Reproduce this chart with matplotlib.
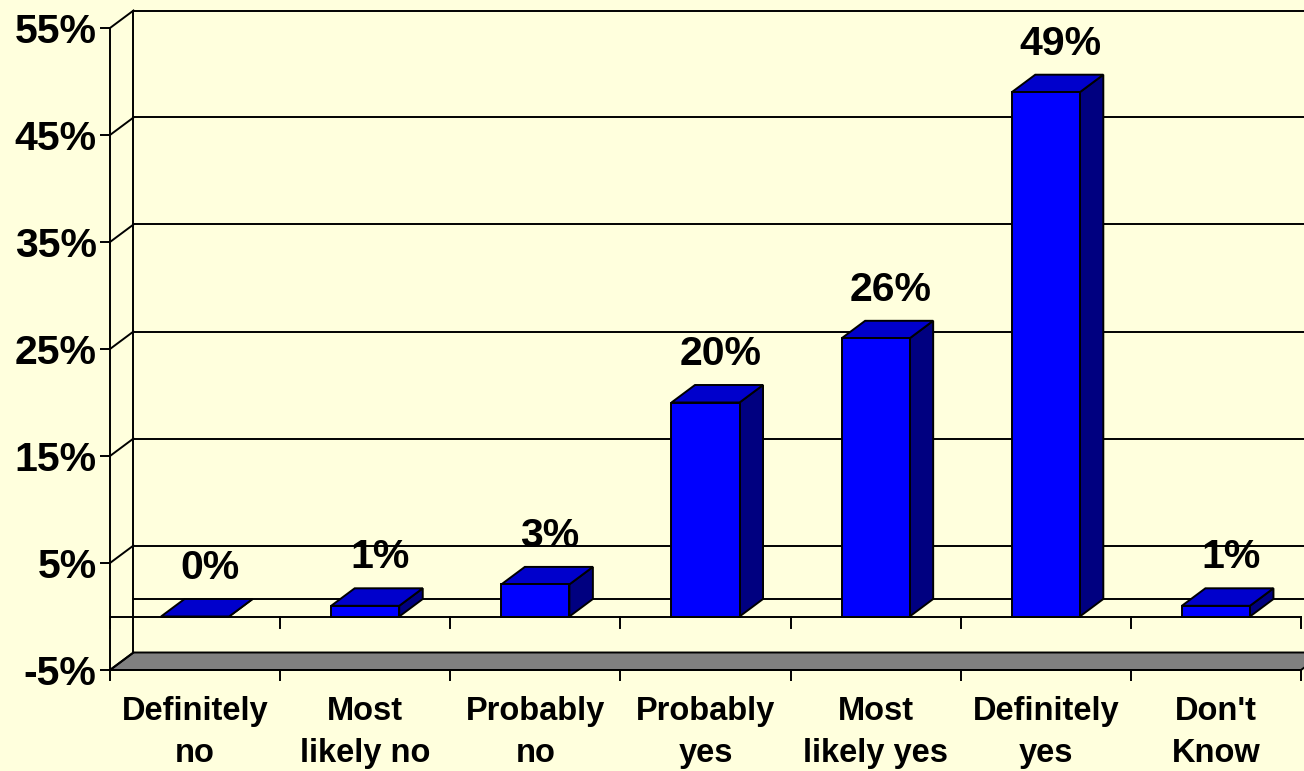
import matplotlib
matplotlib.use("Agg")
import matplotlib.pyplot as plt
from matplotlib.patches import Polygon
import numpy as np

# Survey answers and their shares (percent)
categories = ["Definitely\nno", "Most\nlikely no", "Probably\nno", "Probably\nyes",
              "Most\nlikely yes", "Definitely\nyes", "Don't\nKnow"]
values = [0, 1, 3, 20, 26, 49, 1]
value_labels = ["0%", "1%", "3%", "20%", "26%", "49%", "1%"]
y_ticks = [-5, 5, 15, 25, 35, 45, 55]
y_tick_labels = ["-5%", "5%", "15%", "25%", "35%", "45%", "55%"]

BG = "#FFFFDD"
FRONT = "#0000FF"
TOP = "#0000CC"
SIDE = "#000080"
FLOOR = "#808080"
LW = 1.4
BAR_W = 0.40
DEPTH_PX = (23.5, 17.5)   # oblique depth of the 3-D box, in pixels

plt.rcParams["font.family"] = ["Liberation Sans", "DejaVu Sans"]
plt.rcParams["font.weight"] = "bold"

fig = plt.figure(figsize=(13.04, 7.71), dpi=100, facecolor=BG)
ax = fig.add_axes([110 / 1304, 101 / 771, 1191 / 1304, 642 / 771])
ax.set_facecolor("none")
ax.set_xlim(-0.5, 6.5)
ax.set_ylim(-5, 55)

# depth offset expressed in data units
inv = ax.transData.inverted()
o = ax.transData.transform((0, 0))
DX, DY = inv.transform(o + np.array(DEPTH_PX))

x0, x1 = -0.5, len(categories) - 0.5
line_kw = dict(color="black", lw=LW, clip_on=False, solid_capstyle="projecting")

# back wall: gridlines, zero line and left edge
for y in y_ticks[1:] + [0]:
    ax.plot([x0 + DX, x1 + DX + 1], [y + DY, y + DY], zorder=1, **line_kw)
ax.plot([x0 + DX, x0 + DX], [-5 + DY, 55 + DY], zorder=1, **line_kw)

# floor
floor = Polygon([(x0, -5), (x1, -5), (x1 + DX, -5 + DY), (x0 + DX, -5 + DY)],
                closed=True, facecolor=FLOOR, edgecolor="black", lw=LW,
                clip_on=False, zorder=2)
ax.add_patch(floor)

# side wall connectors at each tick level
for y in y_ticks:
    ax.plot([x0, x0 + DX], [y, y + DY], zorder=2, **line_kw)

# category axis at zero with its tick marks
tick_len = DY * 11 / DEPTH_PX[1]
ax.plot([x0, x1], [0, 0], zorder=3, **line_kw)
for xb in np.arange(x0, x1 + 0.01, 1):
    ax.plot([xb, xb], [0, -tick_len], zorder=3,
            color="black", lw=LW, clip_on=False)

# 3-D boxes
for i, v in enumerate(values):
    l, r = i - BAR_W / 2, i + BAR_W / 2
    front = Polygon([(l, 0), (r, 0), (r, v), (l, v)], closed=True,
                    facecolor=FRONT, edgecolor="black", lw=LW, zorder=4,
                    joinstyle="miter")
    top = Polygon([(l, v), (r, v), (r + DX, v + DY), (l + DX, v + DY)],
                  closed=True, facecolor=TOP, edgecolor="black", lw=LW,
                  zorder=4, joinstyle="miter")
    side = Polygon([(r, 0), (r + DX, DY), (r + DX, v + DY), (r, v)],
                   closed=True, facecolor=SIDE, edgecolor="black", lw=LW,
                   zorder=4, joinstyle="miter")
    for p in (side, top, front):
        ax.add_patch(p)
    ax.annotate(value_labels[i], xy=(i + DX / 2, v + DY), xytext=(3, 20),
                textcoords="offset pixels", ha="center", va="baseline",
                fontsize=29.5, fontweight="bold", zorder=5,
                annotation_clip=False)

# axes, ticks and labels
for s in ("top", "right"):
    ax.spines[s].set_visible(False)
for s in ("left", "bottom"):
    ax.spines[s].set_linewidth(LW)
    ax.spines[s].set_zorder(3)

ax.set_yticks(y_ticks, y_tick_labels)
ax.tick_params(axis="y", direction="out", length=7.2, width=LW, pad=2.4,
               labelsize=29.5)
ax.set_xticks(np.arange(x0, x1 + 0.01, 1))
ax.set_xticklabels([])
ax.tick_params(axis="x", which="major", direction="out", length=7.9, width=LW)
ax.set_xticks(range(len(categories)), minor=True)
ax.set_xticklabels(categories, minor=True)
ax.tick_params(axis="x", which="minor", length=0, pad=19, labelsize=23.5)
for t in ax.get_xticklabels(minor=True):
    t.set_linespacing(1.45)
    t.set_fontweight("bold")
for t in ax.get_yticklabels():
    t.set_fontweight("bold")

fig.savefig("out.png", dpi=100, facecolor=BG)
